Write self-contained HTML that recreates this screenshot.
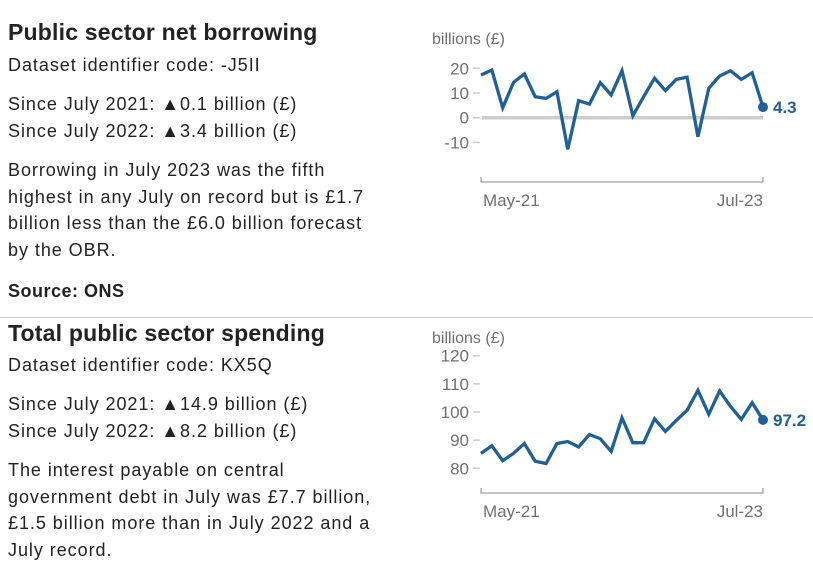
<!DOCTYPE html>
<html><head><meta charset="utf-8">
<style>
body{margin:0;width:813px;height:570px;background:#fff;position:relative;overflow:hidden;font-family:"Liberation Sans",sans-serif;color:#222}
.t{position:absolute;left:8px;white-space:nowrap;font-size:18px;line-height:20px;letter-spacing:0.95px}
.h{font-weight:bold;font-size:23px;line-height:26px;letter-spacing:0.2px}
svg{position:absolute;left:0;top:0}
</style></head><body>
<div class="t h" style="top:19px">Public sector net borrowing</div>
<div class="t" style="top:55px">Dataset identifier code: -J5II</div>
<div class="t" style="top:94px">Since July 2021: ▲0.1 billion (£)</div>
<div class="t" style="top:121px">Since July 2022: ▲3.4 billion (£)</div>
<div class="t" style="top:157px;line-height:26.5px">Borrowing in July 2023 was the fifth<br>highest in any July on record but is £1.7<br>billion less than the £6.0 billion forecast<br>by the OBR.</div>
<div class="t" style="top:281px;font-weight:bold;letter-spacing:0.5px">Source: ONS</div>
<div style="position:absolute;left:0;top:317px;width:813px;height:1px;background:#ccc"></div>
<div class="t h" style="top:320px">Total public sector spending</div>
<div class="t" style="top:355px">Dataset identifier code: KX5Q</div>
<div class="t" style="top:394px">Since July 2021: ▲14.9 billion (£)</div>
<div class="t" style="top:421px">Since July 2022: ▲8.2 billion (£)</div>
<div class="t" style="top:457px;line-height:26.5px">The interest payable on central<br>government debt in July was £7.7 billion,<br>£1.5 billion more than in July 2022 and a<br>July record.</div>
<svg id="c" width="813" height="570"></svg>
<script>
const borrowing=[17.3,19.3,4,14.3,17.7,8.5,7.8,10.5,-12.8,6.9,5.5,14.2,9.2,19,0.8,8.5,16,11,15.5,16.4,-7.7,11.9,16.9,19,15.5,18.2,4.3];
const spending=[85.3,88,82.7,85.3,88.8,82.5,81.7,88.8,89.5,87.6,92,90.5,86,97.9,89.1,89.1,97.6,93.1,97,100.6,107.7,99.2,107.5,102,97.4,103.3,97.2];
const ticks1=[20,10,0,-10];
const ticks2=[120,110,100,90,80];
const xLabels=["May-21","Jul-23"];
const labels1=["4.3"], labels2=["97.2"];
const svg=document.getElementById('c');const NS='http://www.w3.org/2000/svg';
function mk(t,a,p){const e=document.createElementNS(NS,t);for(const k in a)e.setAttribute(k,a[k]);(p||svg).appendChild(e);return e;}
function chart(data,ticks,vA,yA,vB,yB,base,top,endLabel,nm,zero){
  const x0=481,x1=763;
  const x=i=>x0+(x1-x0)*i/(data.length-1);
  const y=v=>yA+(v-vA)*(yB-yA)/(vB-vA);
  let e=mk('text',{x:432,y:top,'font-size':16,fill:'#707070','font-family':'Liberation Sans,sans-serif'});e.textContent='billions (£)';
  
  
  ticks.forEach(t=>{
    let tx=mk('text',{x:469,y:y(t)+6,'text-anchor':'end','font-size':17,fill:'#707070','font-family':'Liberation Sans,sans-serif'});tx.textContent=t;
    
    
    let l=mk('line',{x1:473,x2:480,y1:y(t),y2:y(t),stroke:'#ccc','stroke-width':1.5});
    
    
  });
  if(zero){let z=mk('line',{x1:482,x2:763,y1:y(0),y2:y(0),stroke:'#ccc','stroke-width':3.5});
    
    }
  let ax=mk('path',{d:`M${x0},${base-5}V${base}H${x1}V${base-5}`,stroke:'#888',fill:'none','stroke-width':1});
  
  
  [[x0,'start',xLabels[0]],[x1,'end',xLabels[1]]].forEach(([px,an,s])=>{
    let t=mk('text',{x:px+(an==='start'?2:0),y:base+24,'text-anchor':an,'font-size':17,fill:'#707070','font-family':'Liberation Sans,sans-serif'});t.textContent=s;
    
    
  });
  let p=mk('polyline',{points:data.map((v,i)=>x(i)+','+y(v)).join(' '),fill:'none',stroke:'#206095','stroke-width':3.3,'stroke-linejoin':'miter'});
  
  
  const n=data.length-1;
  let c=mk('circle',{cx:x(n),cy:y(data[n]),r:5,fill:'#206095'});
  
  
  let lt=mk('text',{x:x(n)+10,y:y(data[n])+6,'font-size':17,'font-weight':'bold',fill:'#206095','font-family':'Liberation Sans,sans-serif'});lt.textContent=endLabel;
  
  
}
chart(borrowing,ticks1,20,68.3,0,117.7,182,44,labels1[0],'borrowing',true);
chart(spending,ticks2,120,355.7,80,468.3,493,343,labels2[0],'spending',false);
</script>
</body></html>
